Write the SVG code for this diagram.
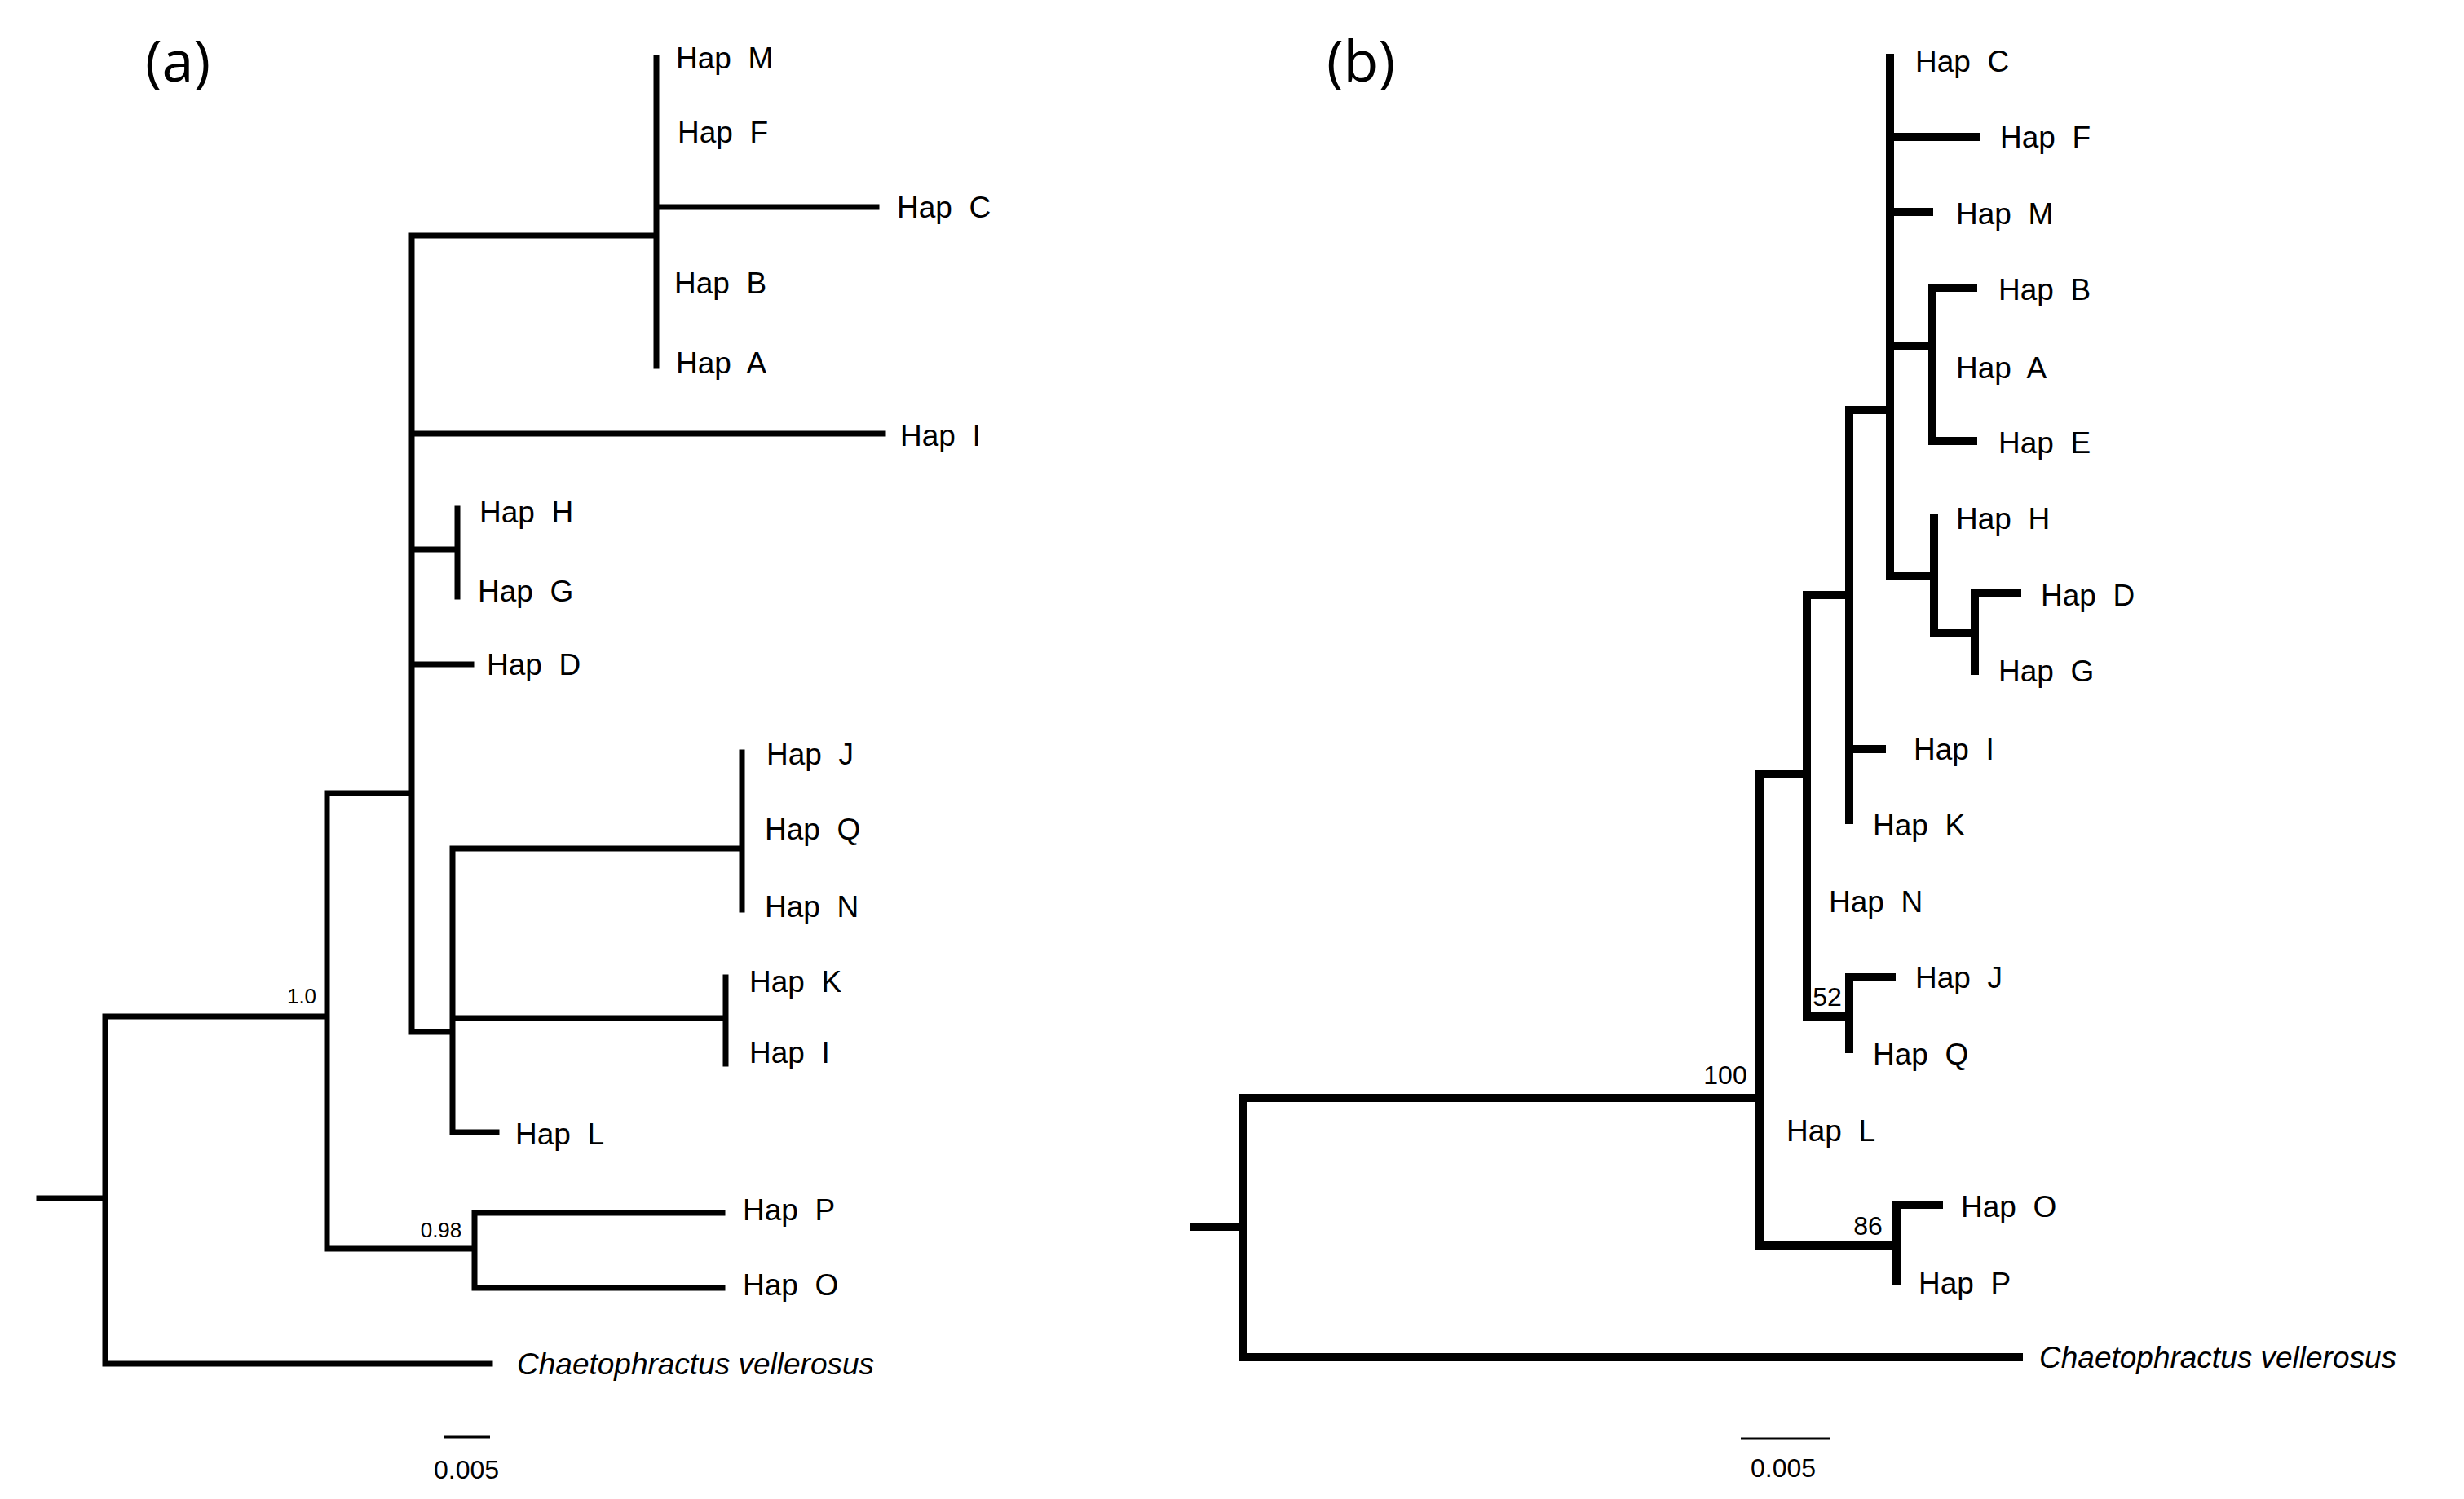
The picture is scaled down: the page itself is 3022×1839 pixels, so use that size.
<svg xmlns="http://www.w3.org/2000/svg" width="3022" height="1839" viewBox="0 0 3022 1839">
<style>
.a{stroke:#000;stroke-width:7;fill:none;stroke-linecap:square}
.b{stroke:#000;stroke-width:10;fill:none;stroke-linecap:square}
.t{font-family:"Liberation Sans",Arial,sans-serif;font-size:37px;fill:#000;white-space:pre}
.s{font-family:"Liberation Sans",Arial,sans-serif;font-size:26px;fill:#000}
.sb{font-family:"Liberation Sans",Arial,sans-serif;font-size:32px;fill:#000}
.p{font-family:"Open Sans","DejaVu Sans",sans-serif;font-size:70px;fill:#000}
.i{font-style:italic}
</style>
<rect width="3022" height="1839" fill="#fff"/>
<g id="connectors">
<path class="a" d="M48 1470H129M129 1247V1673M129 1247H401M401 973V1532M401 973H505M505 289V1266M505 289H805M805 71V449M805 254H1075M505 532H1083M505 674H561M561 624V732M505 815H578M505 1266H555M555 1041V1389M555 1041H910M910 923V1116M555 1249H890M890 1199V1305M555 1389H609M401 1532H582M582 1488V1580M582 1488H886M582 1580H886M129 1673H601"/>
<path d="M545 1763H601" stroke="#000" stroke-width="3"/>
<path class="b" d="M1465 1505H1524M1524 1347V1665M1524 1347H2158M1524 1665H2476M2158 950V1528M2158 950H2216M2158 1528H2326M2326 1478V1571M2326 1478H2378M2216 730V1247M2216 1247H2268M2268 1199V1287M2268 1199H2320M2216 730H2268M2268 503V1006M2268 919H2308M2268 503H2318M2318 71V707M2318 168H2424M2318 260H2366M2318 424H2370M2370 353V541M2370 353H2420M2370 541H2420M2318 707H2372M2372 636V777M2372 777H2422M2422 728V823M2422 728H2474"/>
<path d="M2135 1765H2245" stroke="#000" stroke-width="3"/>
</g>
<g id="panel-a">
<text class="p" x="218" y="100" text-anchor="middle">(a)</text>
<text class="t" x="829" y="84">Hap  M</text>
<text class="t" x="831" y="175">Hap  F</text>
<text class="t" x="1100" y="267">Hap  C</text>
<text class="t" x="827" y="360">Hap  B</text>
<text class="t" x="829" y="458">Hap  A</text>
<text class="t" x="1104" y="547">Hap  I</text>
<text class="t" x="588" y="641">Hap  H</text>
<text class="t" x="586" y="738">Hap  G</text>
<text class="t" x="597" y="828">Hap  D</text>
<text class="t" x="940" y="938">Hap  J</text>
<text class="t" x="938" y="1030">Hap  Q</text>
<text class="t" x="938" y="1125">Hap  N</text>
<text class="t" x="919" y="1217">Hap  K</text>
<text class="t" x="919" y="1304">Hap  I</text>
<text class="t" x="632" y="1404">Hap  L</text>
<text class="t" x="911" y="1497">Hap  P</text>
<text class="t" x="911" y="1589">Hap  O</text>
<text class="t i" x="634" y="1686">Chaetophractus vellerosus</text>
<text class="s" x="370" y="1231" text-anchor="middle">1.0</text>
<text class="s" x="541" y="1518" text-anchor="middle">0.98</text>
<text class="sb" x="572" y="1814" text-anchor="middle">0.005</text>
</g>
<g id="panel-b">
<text class="p" x="1669" y="100" text-anchor="middle">(b)</text>
<text class="t" x="2349" y="88">Hap  C</text>
<text class="t" x="2453" y="181">Hap  F</text>
<text class="t" x="2399" y="275">Hap  M</text>
<text class="t" x="2451" y="368">Hap  B</text>
<text class="t" x="2399" y="464">Hap  A</text>
<text class="t" x="2451" y="556">Hap  E</text>
<text class="t" x="2399" y="649">Hap  H</text>
<text class="t" x="2503" y="743">Hap  D</text>
<text class="t" x="2451" y="836">Hap  G</text>
<text class="t" x="2347" y="932">Hap  I</text>
<text class="t" x="2297" y="1025">Hap  K</text>
<text class="t" x="2243" y="1119">Hap  N</text>
<text class="t" x="2349" y="1212">Hap  J</text>
<text class="t" x="2297" y="1306">Hap  Q</text>
<text class="t" x="2191" y="1400">Hap  L</text>
<text class="t" x="2405" y="1493">Hap  O</text>
<text class="t" x="2353" y="1587">Hap  P</text>
<text class="t i" x="2501" y="1678">Chaetophractus vellerosus</text>
<text class="sb" x="2116" y="1330" text-anchor="middle">100</text>
<text class="sb" x="2291" y="1515" text-anchor="middle">86</text>
<text class="sb" x="2241" y="1234" text-anchor="middle">52</text>
<text class="sb" x="2187" y="1812" text-anchor="middle">0.005</text>
</g>
</svg>
